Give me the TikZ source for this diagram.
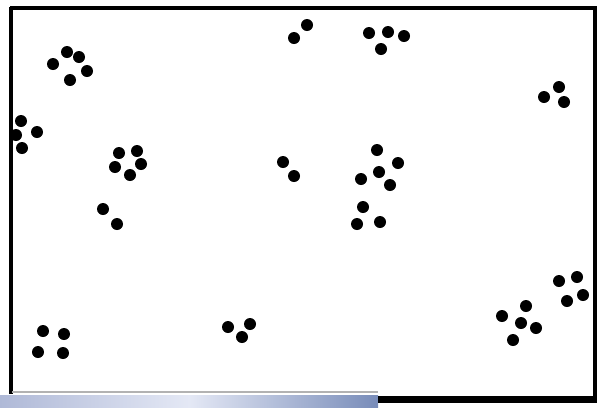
\documentclass[tikz,border=0pt]{standalone}
\usepackage{tikz}
\usepackage{xcolor}
\usetikzlibrary{calc,backgrounds}
\definecolor{scanblue}{RGB}{175,185,215}
\definecolor{scanpale}{RGB}{228,232,245}
\definecolor{scandark}{RGB}{120,140,185}

\begin{document}
\begin{tikzpicture}[x=0.02cm,y=-0.02cm,
    paw/.style={fill=black},
    frame/.style={line width=1.8pt,black}]
                \useasboundingbox (0,0) rectangle (597,407);

                % Scan strip at the bottom
                \shade[left color=scanblue,right color=scandark,middle color=scanpale] (0,395) rectangle (378,407);
                \fill[black] (378,396) rectangle (597,403);

                % Frame
                \draw[frame,line width=2.4pt] (11,7) -- (11,394);
                \draw[frame] (10,8) -- (595,8) -- (595,396);
                \draw[gray!60,line width=0.6pt] (12,392) -- (378,392);

                % Top row
                \foreach \x/\y in {67/52,79/57,53/64,87/71,70/80}
                    \fill[paw] (\x,\y) circle (6);
                \foreach \x/\y in {307/25,294/38}
                    \fill[paw] (\x,\y) circle (6);
                \foreach \x/\y in {369/33,388/32,404/36,381/49}
                    \fill[paw] (\x,\y) circle (6);
                \foreach \x/\y in {559/87,544/97,564/102}
                    \fill[paw] (\x,\y) circle (6);

                % Middle row
                \foreach \x/\y in {21/121,37/132,16/135,22/148}
                    \fill[paw] (\x,\y) circle (6);
                \foreach \x/\y in {119/153,137/151,115/167,141/164,130/175}
                    \fill[paw] (\x,\y) circle (6);
                \foreach \x/\y in {283/162,294/176}
                    \fill[paw] (\x,\y) circle (6);
                \foreach \x/\y in {377/150,398/163,379/172,361/179,390/185,363/207,357/224,380/222}
                    \fill[paw] (\x,\y) circle (6);
                \foreach \x/\y in {103/209,117/224}
                    \fill[paw] (\x,\y) circle (6);

                % Bottom row
                \foreach \x/\y in {43/331,64/334,38/352,63/353}
                    \fill[paw] (\x,\y) circle (6);
                \foreach \x/\y in {228/327,250/324,242/337}
                    \fill[paw] (\x,\y) circle (6);
                \foreach \x/\y in {526/306,502/316,521/323,536/328,513/340}
                    \fill[paw] (\x,\y) circle (6);
                \foreach \x/\y in {559/281,577/277,583/295,567/301}
                    \fill[paw] (\x,\y) circle (6);
            \end{tikzpicture}
\end{document}
